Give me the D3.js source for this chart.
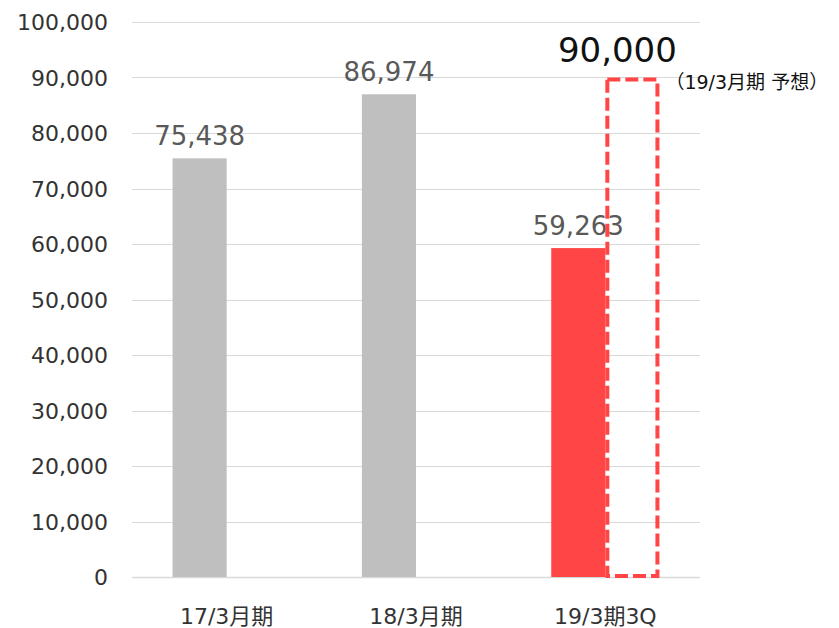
<!DOCTYPE html>
<html>
<head>
<meta charset="utf-8">
<script src="https://cdn.jsdelivr.net/npm/d3@7"></script>
<style>
  body { margin: 0; background: #fff; }
  svg { display: block; font-family: "DejaVu Sans", "Noto Sans CJK JP", sans-serif; }
</style>
</head>
<body>
<svg id="chart" width="839" height="628"></svg>
<script>
var categories = ["17/3月期", "18/3月期", "19/3期3Q"];
var actual = [75438, 86974, 59263];
var forecast = [null, null, 90000];
var yTicks = [0, 10000, 20000, 30000, 40000, 50000, 60000, 70000, 80000, 90000, 100000];
var forecastNote = "（19/3月期 予想）";

var svg = d3.select("#chart");
var fmt = d3.format(",");

var x = d3.scaleBand()
    .domain(categories)
    .range([132, 700])
    .padding(0);

var xs = d3.scaleBand()
    .domain(["actual", "forecast"])
    .range([0, x.bandwidth()])
    .paddingInner(0)
    .paddingOuter(0.75);

var y = d3.scaleLinear()
    .domain([0, 100000])
    .range([577, 22]);

// gridlines
svg.append("g")
  .selectAll("line").data(yTicks)
  .enter().append("line")
    .attr("x1", 132).attr("x2", 700)
    .attr("y1", function(d) { return Math.round(y(d)) + 0.5; })
    .attr("y2", function(d) { return Math.round(y(d)) + 0.5; })
    .attr("stroke", "#d9d9d9")
    .attr("stroke-width", function(d) { return d === 0 ? 1.5 : 1; });

// y axis labels
var yAxis = svg.append("g")
    .attr("transform", "translate(108,0)")
    .call(d3.axisLeft(y).tickValues(yTicks).tickFormat(fmt).tickSize(0).tickPadding(0));
yAxis.select(".domain").remove();
yAxis.selectAll("text")
    .attr("font-family", "DejaVu Sans, sans-serif")
    .attr("font-size", 22)
    .attr("fill", "#333")
    .attr("dy", "0.36em");

// x axis labels
var xAxis = svg.append("g")
    .attr("transform", "translate(0,601)")
    .call(d3.axisBottom(x).tickSize(0).tickPadding(0));
xAxis.select(".domain").remove();
xAxis.selectAll("text")
    .attr("font-family", "DejaVu Sans, Noto Sans CJK JP, sans-serif")
    .attr("font-size", 22)
    .attr("fill", "#333")
    .attr("dy", "1.05em");

var bars = categories.map(function(c, i) {
  return { cat: c, value: actual[i], forecast: forecast[i], last: i === categories.length - 1 };
});

// actual bars
svg.append("g")
  .selectAll("rect").data(bars)
  .enter().append("rect")
    .attr("x", function(d) { return x(d.cat) + xs("actual"); })
    .attr("y", function(d) { return y(d.value); })
    .attr("width", xs.bandwidth())
    .attr("height", function(d) { return y(0) - y(d.value); })
    .attr("fill", function(d) { return d.last ? "#ff4545" : "#bfbfbf"; });

svg.append("g")
  .selectAll("text").data(bars)
  .enter().append("text")
    .attr("x", function(d) { return x(d.cat) + xs("actual") + xs.bandwidth() / 2; })
    .attr("y", function(d) { return y(d.value) - 13; })
    .attr("text-anchor", "middle")
    .attr("font-size", 26)
    .attr("fill", "#595959")
    .text(function(d) { return fmt(d.value); });

// forecast box (dashed)
var fc = bars.filter(function(d) { return d.forecast != null; });

svg.append("g")
  .selectAll("rect").data(fc)
  .enter().append("rect")
    .attr("x", function(d) { return x(d.cat) + xs("forecast") + 2; })
    .attr("y", function(d) { return y(d.forecast) + 2; })
    .attr("width", xs.bandwidth() - 4)
    .attr("height", function(d) { return y(0) - y(d.forecast) - 3; })
    .attr("fill", "none")
    .attr("stroke", "#ff4545")
    .attr("stroke-width", 4)
    .attr("stroke-dasharray", "13,5");

svg.append("g")
  .selectAll("text").data(fc)
  .enter().append("text")
    .attr("x", function(d) { return x(d.cat) + xs("forecast") + xs.bandwidth() / 2 - 15; })
    .attr("y", function(d) { return y(d.forecast) - 16; })
    .attr("text-anchor", "middle")
    .attr("font-size", 34)
    .attr("fill", "#111")
    .text(function(d) { return fmt(d.forecast); });

svg.append("g")
  .selectAll("text").data(fc)
  .enter().append("text")
    .attr("x", function(d) { return x(d.cat) + xs("forecast") + xs.bandwidth() + 6; })
    .attr("y", function(d) { return y(d.forecast) + 11; })
    .attr("font-family", "DejaVu Sans, Noto Sans CJK JP, sans-serif")
    .attr("font-size", 19)
    .attr("fill", "#111")
    .text(forecastNote);
</script>
</body>
</html>
